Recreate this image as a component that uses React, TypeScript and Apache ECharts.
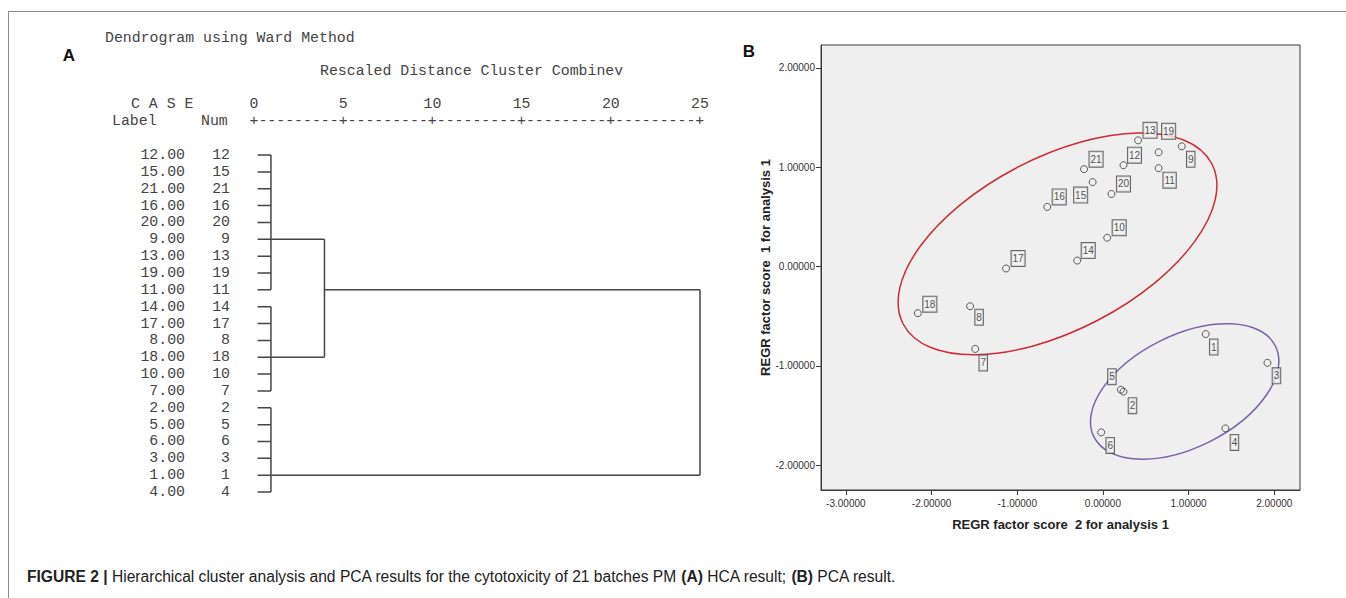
import React, { useEffect, useRef } from 'react';
import * as echarts from 'echarts';

// ---------- Panel A: dendrogram data ----------
const caseLabels = ['12.00', '15.00', '21.00', '16.00', '20.00', '9.00', '13.00', '19.00', '11.00', '14.00', '17.00', '8.00', '18.00', '10.00', '7.00', '2.00', '5.00', '6.00', '3.00', '1.00', '4.00'];
const caseNums = ['12', '15', '21', '16', '20', '9', '13', '19', '11', '14', '17', '8', '18', '10', '7', '2', '5', '6', '3', '1', '4'];
const distanceTicks = [0, 5, 10, 15, 20, 25];
const leafStart = 0.2;
// three first-level clusters (row indices in the list above)
const clusterFirstRow = [0, 9, 15];
const clusterLastRow = [8, 14, 20];
const clusterJoinRow = [5, 12, 19];
const clusterHeight = [0.95, 0.95, 0.95];
// clusters 0 and 1 join here
const midHeight = 3.95;
const midJoinRow = 8;
// final join with cluster 2
const rootHeight = 25;

// ---------- Panel B: PCA scores ----------
const pointIds = ['1', '2', '3', '4', '5', '6', '7', '8', '9', '10', '11', '12', '13', '14', '15', '16', '17', '18', '19', '20', '21'];
const score2 = [1.20, 0.24, 1.92, 1.43, 0.21, -0.02, -1.49, -1.55, 0.92, 0.05, 0.65, 0.24, 0.41, -0.30, -0.12, -0.65, -1.13, -2.16, 0.65, 0.10, -0.22];
const score1 = [-0.68, -1.26, -0.97, -1.63, -1.24, -1.67, -0.83, -0.40, 1.21, 0.29, 0.99, 1.02, 1.27, 0.06, 0.85, 0.60, -0.02, -0.47, 1.15, 0.73, 0.98];
const xTicks = [-3, -2, -1, 0, 1, 2];
const yTicks = [-2, -1, 0, 1, 2];
// ellipses: centre, end of major semi-axis, end of minor semi-axis (data units)
const ellipseCentre = [[-0.53, 0.228], [0.954, -1.258]];
const ellipseMajorEnd = [[1.27, 1.034], [2.013, -0.80]];
const ellipseMinorEnd = [[-0.067, -0.544], [1.247, -1.763]];

// label box offsets (px) for each point
const labelOffsets = [[8, 13], [9, 14], [9, 13], [9, 14], [-9, -13], [9, 13], [8, 14], [9, 11], [9, 13], [12, -10], [11, 12], [11, -10], [12, -10], [11, -10], [-12, 13], [12, -10], [12, -10], [12, -9], [10, -21], [12, -10], [12, -10]];
const ellipseColors = ['#cf2a35', '#7a62a8'];

const monoFont = '"Liberation Mono", "DejaVu Sans Mono", monospace';
const sansFont = '"Liberation Sans", Arial, Helvetica, sans-serif';
const monoSize = 14.87;
const textGray = '#444444';

function buildDendroSeries() {
  const segs: number[][][] = [];
  for (let c = 0; c < 3; c++) {
    for (let r = clusterFirstRow[c]; r <= clusterLastRow[c]; r++) {
      segs.push([[leafStart, r], [clusterHeight[c], r]]);
    }
    segs.push([[clusterHeight[c], clusterFirstRow[c]], [clusterHeight[c], clusterLastRow[c]]]);
  }
  segs.push([[clusterHeight[0], clusterJoinRow[0]], [midHeight, clusterJoinRow[0]]]);
  segs.push([[clusterHeight[1], clusterJoinRow[1]], [midHeight, clusterJoinRow[1]]]);
  segs.push([[midHeight, clusterJoinRow[0]], [midHeight, clusterJoinRow[1]]]);
  segs.push([[midHeight, midJoinRow], [rootHeight, midJoinRow]]);
  segs.push([[clusterHeight[2], clusterJoinRow[2]], [rootHeight, clusterJoinRow[2]]]);
  segs.push([[rootHeight, midJoinRow], [rootHeight, clusterJoinRow[2]]]);
  return segs.map((s) => ({
    type: 'line',
    xAxisIndex: 0,
    yAxisIndex: 0,
    data: s,
    symbol: 'none',
    silent: true,
    lineStyle: { color: '#454545', width: 1.5 },
  }));
}

export default function App() {
  const ref = useRef<HTMLDivElement>(null);
  useEffect(() => {
    if (!ref.current) return;
    const chart = echarts.init(ref.current, undefined, { renderer: 'svg' });
    const plusLine = distanceTicks.map((_, i) => (i === 0 ? '+' : '---------+')).join('');

    const scatterData = pointIds.map((id, i) => ({
      name: id,
      value: [score2[i], score1[i]],
      label: { offset: labelOffsets[i] },
    }));

    const ellipseData = ellipseCentre.map((c, i) => [c[0], c[1], ellipseMajorEnd[i][0], ellipseMajorEnd[i][1], ellipseMinorEnd[i][0], ellipseMinorEnd[i][1]]);

    const option: any = {
      animation: false,
      backgroundColor: '#ffffff',
      grid: [
        { left: 254, right: 646, top: 146.6, height: 353.85, show: false },
        { left: 821, right: 46, top: 45, bottom: 108, show: true, backgroundColor: '#efefef', borderColor: '#3a3a3a', borderWidth: 1 },
      ],
      xAxis: [
        {
          gridIndex: 0,
          type: 'value',
          position: 'top',
          min: 0,
          max: 25,
          interval: 5,
          axisLine: { show: false },
          axisTick: { show: false },
          splitLine: { show: false },
          axisLabel: { margin: 35.5, fontFamily: monoFont, fontSize: monoSize, color: textGray },
        },
        {
          gridIndex: 1,
          type: 'value',
          min: -3.29,
          max: 2.30,
          axisLine: { show: true, onZero: false, lineStyle: { color: '#3a3a3a', width: 1 } },
          axisTick: { show: true, length: 5, customValues: xTicks, lineStyle: { color: '#3a3a3a' } },
          splitLine: { show: false },
          axisLabel: {
            customValues: xTicks,
            formatter: (v: number) => v.toFixed(5),
            fontFamily: sansFont,
            fontSize: 10,
            color: '#333',
            margin: 8,
          },
          name: 'REGR factor score  2 for analysis 1',
          nameLocation: 'middle',
          nameGap: 28,
          nameTextStyle: { fontFamily: sansFont, fontSize: 13, fontWeight: 'bold', color: '#222' },
        },
      ],
      yAxis: [
        {
          gridIndex: 0,
          type: 'category',
          position: 'left',
          inverse: true,
          data: caseNums,
          axisLine: { show: false },
          axisTick: { show: false },
          axisLabel: { interval: 0, margin: 24, fontFamily: monoFont, fontSize: monoSize, color: textGray },
        },
        {
          gridIndex: 0,
          type: 'category',
          position: 'left',
          offset: 45,
          inverse: true,
          data: caseLabels,
          axisLine: { show: false },
          axisTick: { show: false },
          axisLabel: { interval: 0, margin: 24, fontFamily: monoFont, fontSize: monoSize, color: textGray },
        },
        {
          gridIndex: 1,
          type: 'value',
          min: -2.25,
          max: 2.23,
          axisLine: { show: true, onZero: false, lineStyle: { color: '#3a3a3a', width: 1 } },
          axisTick: { show: true, length: 5, customValues: yTicks, lineStyle: { color: '#3a3a3a' } },
          splitLine: { show: false },
          axisLabel: {
            customValues: yTicks,
            formatter: (v: number) => v.toFixed(5),
            fontFamily: sansFont,
            fontSize: 10,
            color: '#333',
            margin: 6,
          },
          name: 'REGR factor score  1 for analysis 1',
          nameLocation: 'middle',
          nameGap: 49,
          nameTextStyle: { fontFamily: sansFont, fontSize: 13, fontWeight: 'bold', color: '#222' },
        },
      ],
      series: [
        ...buildDendroSeries(),
        {
          type: 'custom',
          xAxisIndex: 1,
          yAxisIndex: 2,
          data: ellipseData,
          silent: true,
          encode: { x: 0, y: 1 },
          renderItem: (params: any, api: any) => {
            const c = api.coord([api.value(0), api.value(1)]);
            const m = api.coord([api.value(2), api.value(3)]);
            const n = api.coord([api.value(4), api.value(5)]);
            const rx = Math.hypot(m[0] - c[0], m[1] - c[1]);
            const ry = Math.hypot(n[0] - c[0], n[1] - c[1]);
            const rot = Math.atan2(-(m[1] - c[1]), m[0] - c[0]);
            return {
              type: 'ellipse',
              x: c[0],
              y: c[1],
              rotation: rot,
              shape: { cx: 0, cy: 0, rx, ry },
              style: { fill: 'none', stroke: ellipseColors[params.dataIndex], lineWidth: 1.5 },
            };
          },
        },
        {
          type: 'scatter',
          xAxisIndex: 1,
          yAxisIndex: 2,
          data: scatterData,
          symbol: 'circle',
          symbolSize: 7,
          itemStyle: { color: 'rgba(0,0,0,0)', borderColor: '#333', borderWidth: 1 },
          label: {
            show: true,
            position: 'inside',
            formatter: '{b}',
            fontFamily: sansFont,
            fontSize: 10,
            color: '#222',
            textBorderWidth: 0,
            textShadowBlur: 0,
            borderColor: '#444',
            borderWidth: 1,
            padding: [3, 1, 2, 1],
            backgroundColor: '#f3f3f3',
          },
          z: 5,
        },
      ],
      graphic: [
        { type: 'line', shape: { x1: 8, y1: 11.5, x2: 1346, y2: 11.5 }, style: { stroke: '#8a8a8a', lineWidth: 1 } },
        { type: 'line', shape: { x1: 8.5, y1: 11, x2: 8.5, y2: 598 }, style: { stroke: '#8a8a8a', lineWidth: 1 } },
        { type: 'text', x: 69, y: 55, style: { text: 'A', fontFamily: sansFont, fontSize: 17, fontWeight: 'bold', fill: '#111', align: 'center', verticalAlign: 'middle' } },
        { type: 'text', x: 749, y: 51, style: { text: 'B', fontFamily: sansFont, fontSize: 17, fontWeight: 'bold', fill: '#111', align: 'center', verticalAlign: 'middle' } },
        { type: 'text', x: 105, y: 38, style: { text: 'Dendrogram using Ward Method', fontFamily: monoFont, fontSize: monoSize, fill: textGray, align: 'left', verticalAlign: 'middle' } },
        { type: 'text', x: 320, y: 71, style: { text: 'Rescaled Distance Cluster Combinev', fontFamily: monoFont, fontSize: monoSize, fill: textGray, align: 'left', verticalAlign: 'middle' } },
        { type: 'text', x: 131, y: 104, style: { text: 'C A S E', fontFamily: monoFont, fontSize: monoSize, fill: textGray, align: 'left', verticalAlign: 'middle' } },
        { type: 'text', x: 112, y: 121, style: { text: 'Label', fontFamily: monoFont, fontSize: monoSize, fill: textGray, align: 'left', verticalAlign: 'middle' } },
        { type: 'text', x: 201, y: 121, style: { text: 'Num', fontFamily: monoFont, fontSize: monoSize, fill: textGray, align: 'left', verticalAlign: 'middle' } },
        { type: 'text', x: 249.5, y: 121, style: { text: plusLine, fontFamily: monoFont, fontSize: monoSize, fill: textGray, align: 'left', verticalAlign: 'middle' } },
        {
          type: 'text',
          x: 27,
          y: 576,
          style: {
            text: '{b|FIGURE 2 |} Hierarchical cluster analysis and PCA results for the cytotoxicity of 21 batches PM {b|(A)} HCA result; {b|(B)} PCA result.',
            fontFamily: sansFont,
            fontSize: 15.6,
            fill: '#222',
            align: 'left',
            verticalAlign: 'middle',
            rich: { b: { fontFamily: sansFont, fontSize: 15.6, fontWeight: 'bold', fill: '#222' } },
          },
        },
      ],
    };
    chart.setOption(option);
    return () => chart.dispose();
  }, []);
  return <div ref={ref} style={{ position: 'absolute', left: 0, top: 0, width: 1346, height: 598 }} />;
}
